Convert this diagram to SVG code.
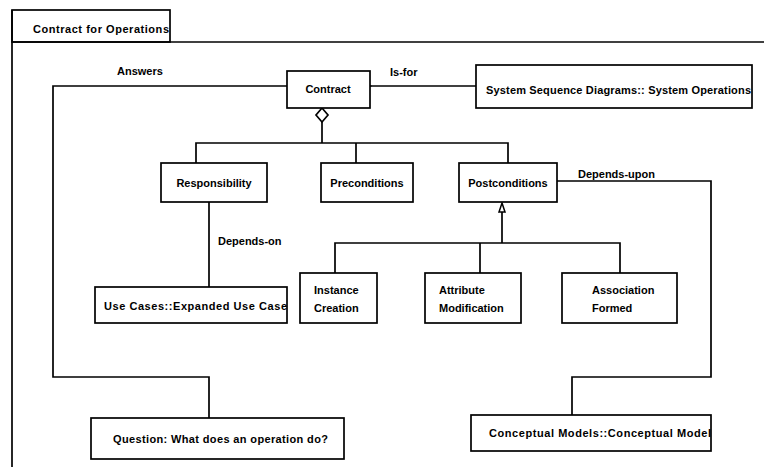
<svg xmlns="http://www.w3.org/2000/svg" width="764" height="467" viewBox="0 0 764 467">
  <style>
    .box { fill: #fff; stroke: #000; stroke-width: 1.7; }
    .ln { fill: none; stroke: #000; stroke-width: 1.7; }
    .t { font-family: "Liberation Sans", Arial, sans-serif; font-size: 11px; font-weight: bold; fill: #000; }
    .c { text-anchor: middle; }
  </style>
  <defs>
    <marker id="open-arrow" markerWidth="8" markerHeight="8" refX="1" refY="4" orient="auto" markerUnits="userSpaceOnUse">
      <path d="M6,1 L1,4 L6,7" fill="none" stroke="#000" stroke-width="1.2"/>
    </marker>
  </defs>
  <rect width="764" height="467" fill="#fff"/>

  <!-- package frame -->
  <g id="frame">
    <rect class="box" x="12" y="10" width="158" height="32"/>
    <line class="ln" x1="12" y1="42" x2="764" y2="42"/>
    <line class="ln" x1="12" y1="10" x2="12" y2="467"/>
    <text class="t" x="33" y="33" textLength="136">Contract for Operations</text>
  </g>

  <!-- connectors -->
  <g id="connectors">
    <polyline class="ln" points="287,86 53,86 53,377 209,377 209,418"/>
    <line class="ln" x1="476" y1="86" x2="371" y2="86" marker-end="url(#open-arrow)"/>
    <polygon points="322,108 328,115 322,122 316,115" fill="#fff" stroke="#000" stroke-width="1.7"/>
    <polyline class="ln" points="322,122 322,143"/>
    <polyline class="ln" points="196,163 196,143 508,143 508,163"/>
    <line class="ln" x1="356" y1="143" x2="356" y2="163"/>
    <line class="ln" x1="209" y1="202" x2="209" y2="287"/>
    <polygon points="502,203 505,212 499,212" fill="#fff" stroke="#000" stroke-width="1.5"/>
    <line class="ln" x1="502" y1="212" x2="502" y2="243"/>
    <polyline class="ln" points="335,273 335,243 620,243 620,273"/>
    <line class="ln" x1="480" y1="243" x2="480" y2="273"/>
    <polyline class="ln" points="557,181 711,181 711,377 572,377 572,415"/>
    <text class="t" x="117" y="75">Answers</text>
    <text class="t" x="390" y="76">Is-for</text>
    <text class="t" x="218" y="245">Depends-on</text>
    <text class="t" x="578" y="178">Depends-upon</text>
  </g>

  <g id="contract">
    <rect class="box" x="287" y="71" width="83" height="37"/>
    <text class="t c" x="328" y="93">Contract</text>
  </g>

  <g id="system-operations">
    <rect class="box" x="476" y="65" width="276" height="43"/>
    <text class="t" x="486" y="94" textLength="265">System Sequence Diagrams:: System Operations</text>
  </g>

  <g id="responsibility">
    <rect class="box" x="161" y="163" width="106" height="39"/>
    <text class="t c" x="214" y="187">Responsibility</text>
  </g>

  <g id="preconditions">
    <rect class="box" x="321" y="163" width="92" height="39"/>
    <text class="t c" x="367" y="187">Preconditions</text>
  </g>

  <g id="postconditions">
    <rect class="box" x="459" y="163" width="98" height="39"/>
    <text class="t c" x="508" y="187">Postconditions</text>
  </g>

  <g id="use-case">
    <rect class="box" x="95" y="287" width="192" height="36"/>
    <text class="t" x="104" y="310" textLength="183">Use Cases::Expanded Use Case</text>
  </g>

  <g id="instance-creation">
    <rect class="box" x="300" y="273" width="77" height="50"/>
    <text class="t" x="314" y="294">Instance</text>
    <text class="t" x="314" y="312">Creation</text>
  </g>

  <g id="attribute-modification">
    <rect class="box" x="425" y="273" width="96" height="50"/>
    <text class="t" x="439" y="294">Attribute</text>
    <text class="t" x="439" y="312">Modification</text>
  </g>

  <g id="association-formed">
    <rect class="box" x="562" y="273" width="115" height="50"/>
    <text class="t" x="592" y="294">Association</text>
    <text class="t" x="592" y="312">Formed</text>
  </g>

  <g id="question">
    <rect class="box" x="91" y="418" width="253" height="41"/>
    <text class="t" x="113" y="443" textLength="215">Question: What does an operation do?</text>
  </g>

  <g id="conceptual-model">
    <rect class="box" x="471" y="415" width="240" height="36"/>
    <text class="t" x="489" y="437" textLength="222">Conceptual Models::Conceptual Model</text>
  </g>
</svg>
